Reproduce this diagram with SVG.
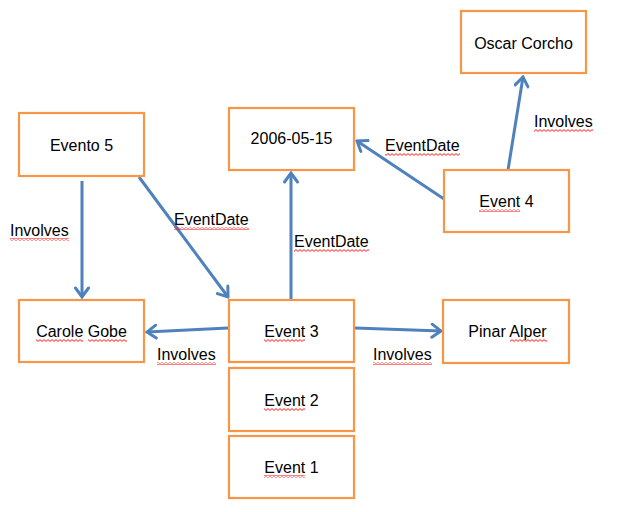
<svg xmlns="http://www.w3.org/2000/svg" width="617" height="512" viewBox="0 0 617 512">
<style>
.box{fill:#fff;stroke:#F79646;stroke-width:2.2}
.t{font-family:"Liberation Sans",Arial,sans-serif;font-size:16px;fill:#000}
.c{text-anchor:middle}
.e{fill:none;stroke:#4F81BD;stroke-width:3;marker-end:url(#ah)}
.sq{fill:url(#wave)}
</style>
<defs>
<marker id="ah" markerUnits="userSpaceOnUse" viewBox="-12 -8 14 16" refX="0" refY="0" markerWidth="14" markerHeight="16" orient="auto">
<path d="M-9,-6.5 L0,0 L-9,6.5" fill="none" stroke="#4F81BD" stroke-width="3" stroke-linecap="round" stroke-linejoin="miter"/>
</marker>
<pattern id="wave" patternUnits="userSpaceOnUse" width="4" height="3">
<path d="M0,0.6 L2,2.4 L4,0.6" fill="none" stroke="#FF0000" stroke-width="0.9"/>
</pattern>
</defs>
<g id="connectors">
<line class="e" x1="82" y1="181" x2="82" y2="297"/>
<line class="e" x1="139" y1="177" x2="228" y2="297"/>
<line class="e" x1="291" y1="299" x2="291" y2="173"/>
<line class="e" x1="444" y1="199" x2="357" y2="141"/>
<line class="e" x1="508" y1="170" x2="523" y2="77"/>
<line class="e" x1="228" y1="328" x2="147" y2="332"/>
<line class="e" x1="355" y1="328" x2="441" y2="331"/>
<text class="t" x="10" y="236">Involves</text><rect class="sq" x="10" y="238" width="59" height="3"/>
<text class="t" x="174" y="225">EventDate</text><rect class="sq" x="174" y="227" width="75" height="3"/>
<text class="t" x="294" y="247">EventDate</text><rect class="sq" x="294" y="249" width="75" height="3"/>
<text class="t" x="385" y="151">EventDate</text><rect class="sq" x="385" y="153" width="75" height="3"/>
<text class="t" x="534" y="127">Involves</text><rect class="sq" x="534" y="129" width="59" height="3"/>
<text class="t" x="157" y="360">Involves</text><rect class="sq" x="157" y="362" width="59" height="3"/>
<text class="t" x="373" y="360">Involves</text><rect class="sq" x="373" y="362" width="59" height="3"/>
</g>
<g id="evento5"><rect class="box" x="19" y="113" width="125" height="63"/><text class="t c" x="81.5" y="151">Evento 5</text></g>
<g id="date"><rect class="box" x="229" y="108" width="125" height="62"/><text class="t c" x="291.5" y="144">2006-05-15</text></g>
<g id="oscar"><rect class="box" x="461" y="11" width="125" height="62"/><text class="t c" x="523.5" y="49">Oscar Corcho</text></g>
<g id="event4"><rect class="box" x="444" y="170" width="125" height="62"/><text class="t c" x="506.5" y="207">Event 4</text><rect class="sq" x="479" y="209" width="41" height="3"/></g>
<g id="carole"><rect class="box" x="19" y="300" width="125" height="62"/><text class="t c" x="81.5" y="337">Carole Gobe</text><rect class="sq" x="36" y="339" width="47" height="3"/><rect class="sq" x="88" y="339" width="39" height="3"/></g>
<g id="event3"><rect class="box" x="229" y="300" width="125" height="62"/><text class="t c" x="291.5" y="337">Event 3</text><rect class="sq" x="264" y="339" width="41" height="3"/></g>
<g id="pinar"><rect class="box" x="443" y="300" width="126" height="63"/><text class="t c" x="507.5" y="337">Pinar Alper</text><rect class="sq" x="510" y="339" width="37" height="3"/></g>
<g id="event2"><rect class="box" x="229" y="368" width="125" height="63"/><text class="t c" x="291.5" y="406">Event 2</text><rect class="sq" x="264" y="408" width="41" height="3"/></g>
<g id="event1"><rect class="box" x="229" y="436" width="125" height="62"/><text class="t c" x="291.5" y="473">Event 1</text><rect class="sq" x="264" y="475" width="41" height="3"/></g>
</svg>
